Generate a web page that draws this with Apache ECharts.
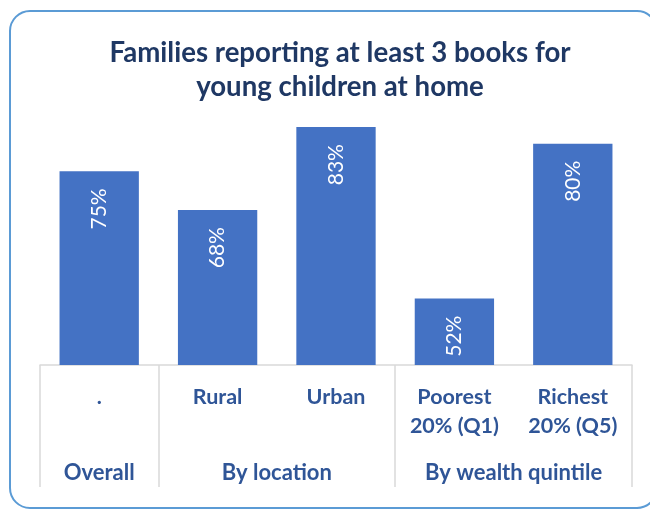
<!DOCTYPE html>
<html>
<head>
<meta charset="utf-8">
<script src="https://cdn.jsdelivr.net/npm/echarts@6/dist/echarts.min.js"></script>
<style>
  html, body { margin: 0; padding: 0; background: #ffffff; }
  #chart { width: 650px; height: 510px; }
</style>
</head>
<body>
<div id="chart"></div>
<script>
// Share of families reporting at least 3 books for young children at home (%)
const categories = ['.', 'Rural', 'Urban', 'Poorest\n20% (Q1)', 'Richest\n20% (Q5)'];
const values = [75, 68, 83, 52, 80];

// Groups of the second axis level: name and number of categories covered
const groupNames = ['Overall', 'By location', 'By wealth quintile'];
const groupSizes = [1, 2, 2];

// Category indices where a new group starts (separator lines)
const groupStarts = [];
const groupCenters = [];
let acc = 0;
groupSizes.forEach(function (n) {
  groupStarts.push(acc);
  groupCenters.push(acc + n / 2);
  acc += n;
});

const titleText = 'Families reporting at least 3 books for\nyoung children at home';

const fontFamily = 'Lato, "Open Sans", sans-serif';
const labelBlue = '#2F5597';
const gridLine = '#D9D9D9';

const chart = echarts.init(document.getElementById('chart'), null, { renderer: 'canvas' });

chart.setOption({
  animation: false,
  backgroundColor: '#ffffff',
  title: {
    text: titleText,
    left: 335,
    top: 31,
    textAlign: 'center',
    textStyle: {
      fontFamily: fontFamily,
      fontWeight: 'bold',
      fontSize: 27.6,
      lineHeight: 34,
      color: '#1F3864'
    }
  },
  graphic: [{
    type: 'rect',
    shape: { x: 10, y: 11, width: 647, height: 497, r: 20 },
    style: { fill: 'none', stroke: '#5B9BD5', lineWidth: 2 },
    silent: true,
    z: -1
  }],
  grid: {
    left: 40,
    right: 18,
    top: 33,
    bottom: 145,
    containLabel: false
  },
  xAxis: [{
    type: 'category',
    data: categories,
    position: 'bottom',
    axisLine: { show: true, onZero: false, lineStyle: { color: gridLine, width: 1.5 } },
    axisTick: {
      show: true,
      length: 122,
      interval: function (index) { return groupStarts.indexOf(index) !== -1; },
      lineStyle: { color: gridLine, width: 1.5 }
    },
    axisLabel: {
      interval: 0,
      margin: 18,
      fontFamily: fontFamily,
      fontWeight: 'bold',
      fontSize: 21.5,
      lineHeight: 29,
      color: labelBlue
    },
    splitLine: { show: false }
  }, {
    type: 'value',
    position: 'bottom',
    min: 0,
    max: categories.length,
    axisLine: { show: false, onZero: false },
    axisTick: { show: false },
    splitLine: { show: false },
    axisLabel: {
      customValues: groupCenters,
      margin: 93,
      fontFamily: fontFamily,
      fontWeight: 'bold',
      fontSize: 22,
      lineHeight: 29,
      color: labelBlue,
      formatter: function (v) {
        const i = groupCenters.indexOf(v);
        return i >= 0 ? groupNames[i] : '';
      }
    }
  }],
  yAxis: {
    type: 'value',
    min: 40,
    max: 100,
    show: false,
    splitLine: { show: false }
  },
  series: [{
    type: 'bar',
    data: values,
    xAxisIndex: 0,
    barCategoryGap: '33%',
    itemStyle: { color: '#4472C4' },
    label: {
      show: true,
      position: 'insideTop',
      distance: 17,
      rotate: 90,
      align: 'right',
      verticalAlign: 'middle',
      formatter: '{c}%',
      fontFamily: fontFamily,
      fontSize: 21,
      color: '#ffffff'
    }
  }]
});
</script>
</body>
</html>
